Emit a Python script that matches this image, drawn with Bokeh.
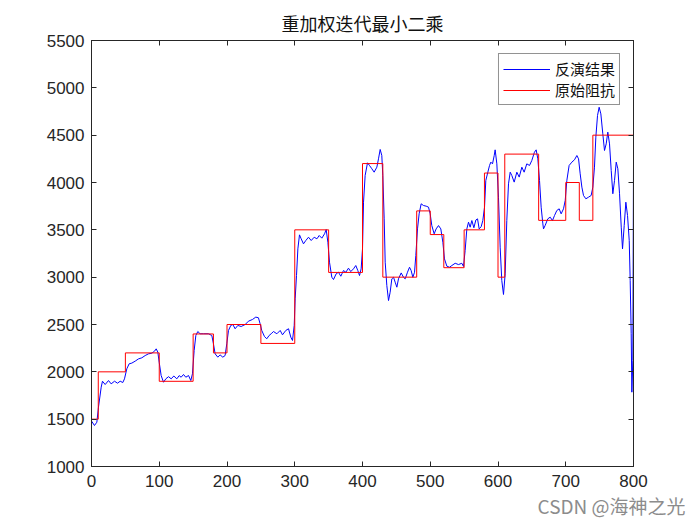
from bokeh.plotting import figure
from bokeh.models import Range1d, FixedTicker, LinearAxis, Title, CustomJSTickFormatter
from bokeh.embed import file_html
from bokeh.resources import INLINE

# 反演结果 (inversion result)
inv_x = [0, 4.4, 7.9, 10.3, 14.3, 16.2, 20.2, 25.1, 29, 34, 38.4, 42.3, 46.2, 48.7, 52.1, 55.6, 59.5,
         64.5, 69.4, 74.3, 79.2, 84.1, 89, 93, 95.5, 97.9, 99.9, 102.8, 106.3, 109.7, 113.7, 117.6,
         121.5, 125.9, 129.4, 132.3, 135.8, 139.2, 143.2, 146.6, 149, 151.5, 154, 156.9, 160.3,
         165.3, 172.6, 177.6, 180, 182.5, 186.4, 189.8, 193.8, 197.2, 199.7, 202.2, 205.6, 208.6,
         212, 216, 220.9, 226.8, 231.7, 237.6, 242.5, 246.4, 248.9, 251.3, 255.3, 258.7, 262.2,
         266.1, 268.6, 273.6, 278.5, 281.9, 286.8, 290.8, 294.2, 296.7, 299.2, 300.6, 302.6, 304.6,
         307, 309.5, 312.9, 316.3, 320.3, 324.3, 328.7, 332.7, 336.1, 340, 344, 346.4, 348.9, 351.3,
         354.7, 357.2, 361.1, 364.5, 368, 371.9, 375.4, 379.3, 382.7, 386.7, 390.1, 393.1, 395.6,
         398, 400, 401.5, 403.9, 407.4, 410.3, 413.8, 417.2, 421.2, 423.6, 426.1, 428.5, 430, 432,
         433.5, 435.9, 438.4, 440.8, 443.3, 445.8, 448.2, 450.7, 453.1, 457.1, 460.5, 463, 466.4,
         469.4, 471.8, 474.3, 476.8, 478.7, 481.2, 483.6, 486.6, 490, 494, 497.4, 499.9, 502.3,
         505.8, 508.7, 512.2, 515.6, 518.6, 521, 524.5, 528.4, 531.9, 536.8, 541.7, 546.6, 549.1,
         551.5, 554, 556.5, 558.9, 561.4, 564.4, 567.3, 569.8, 572.2, 575.2, 577.6, 580.1, 582, 585,
         587.5, 589.4, 591.9, 594.4, 595.8, 598.3, 600.7, 603.2, 605.6, 608.1, 610.6, 613, 615.5,
         618, 620.4, 623.9, 627.8, 631.3, 635.2, 638.6, 642.5, 646.5, 649.9, 653.8, 656.3, 658.8,
         661.3, 663.7, 666.2, 667.2, 669.6, 673.5, 677, 680.4, 683.4, 686.8, 690.3, 693.2, 696.7,
         699.2, 701.6, 705, 709, 712.9, 716.4, 718.9, 721.3, 723.8, 726.2, 729.7, 733.6, 737.5, 740,
         742.4, 744.4, 746.9, 749.3, 751.8, 754.7, 757.2, 759.7, 762.1, 764.6, 767.1, 769.5, 772,
         774.5, 776.9, 779.4, 781.9, 783.8, 786.3, 788.7, 791.2, 793.7, 795.1, 796.6, 797.6, 799, 800]
inv_y = [1480, 1433, 1468, 1627, 1838, 1901, 1866, 1908, 1873, 1901, 1880, 1901, 1887, 1926, 2032, 2085, 2092,
         2113, 2137, 2148, 2172, 2190, 2197, 2218, 2243, 2208, 2102, 1961, 1890, 1926, 1949, 1926,
         1956, 1926, 1960, 1943, 1972, 1943, 1961, 1908, 1979, 2225, 2384, 2426, 2402,
         2402, 2402, 2384, 2296, 2190, 2155, 2179, 2155, 2172, 2296, 2437, 2490, 2500,
         2455, 2490, 2479, 2500, 2535, 2553, 2578, 2571, 2507, 2437, 2373, 2349, 2384,
         2408, 2426, 2402, 2437, 2391, 2437, 2455, 2366, 2331, 2490, 2771, 3017, 3299,
         3447, 3405, 3352, 3387, 3422, 3387, 3422, 3405, 3440, 3412, 3458, 3503, 3369, 3158,
         3000, 2975, 3035, 3052, 3010, 3070, 3052, 3095, 3059, 3088, 3123, 3070, 3017,
         3088, 3299, 3792, 4074, 4208, 4180, 4145, 4109, 4162, 4250, 4349, 4285, 4074, 3616,
         3158, 2912, 2753, 2841, 2982, 2999, 2947, 2894, 2982, 3045, 2999, 2982, 3052,
         3105, 3070, 2999, 3052, 3229, 3510, 3669, 3775, 3757, 3750, 3740, 3669, 3545,
         3458, 3510, 3545, 3510, 3369, 3193, 3116, 3105, 3123, 3147, 3133, 3147, 3113,
         3282, 3510, 3581, 3528, 3598, 3522, 3604, 3616, 3510, 3534, 3598, 3739, 4021, 4109,
         4180, 4215, 4197, 4285, 4345, 4197, 3845, 3317, 2965, 2817, 3035, 3598, 3986,
         4109, 4074, 4004, 4109, 4057, 4162, 4109, 4197, 4180, 4232, 4320, 4345, 4250,
         4021, 3739, 3563, 3510, 3546, 3616, 3634, 3598, 3651, 3704, 3722, 3669, 3722,
         3810, 4021, 4180, 4215, 4240, 4285, 4250, 4092, 3951, 3863, 3828, 3845, 3863, 3951,
         4162, 4479, 4708, 4795, 4725, 4514, 4338, 4408, 4532, 4408, 4127, 3881, 4021,
         4215, 4145, 3881, 3528, 3299, 3546, 3792, 3651, 3387, 2965, 2402, 1785, 2120, 4200]

# 原始阻抗 (original impedance), step function
imp_edges = [0, 10, 50, 100, 150, 180, 200, 250, 300, 350, 400, 430, 480, 500, 520, 550, 580,
             600, 610, 660, 700, 720, 740, 800]
imp_values = [1500, 2000, 2200, 1900, 2400, 2200, 2500, 2300, 3500, 3050, 4200, 3000, 3700,
              3450, 3100, 3500, 4100, 3000, 4300, 3600, 4000, 3600, 4500]

x_ticks = [0, 100, 200, 300, 400, 500, 600, 700, 800]
y_ticks = [1000, 1500, 2000, 2500, 3000, 3500, 4000, 4500, 5000, 5500]

title_text = "重加权迭代最小二乘"
series_names = ["反演结果", "原始阻抗"]
watermark = "CSDN @海神之光"

AX = "#262626"
TICK_FONT = "Liberation Sans"
CJK = "Noto Sans CJK SC"

p = figure(width=700, height=525, output_backend="svg", toolbar_location=None,
           x_range=Range1d(0, 800), y_range=Range1d(1000, 5500),
           min_border_left=91, min_border_right=67, min_border_top=40, min_border_bottom=59,
           background_fill_color="white", border_fill_color="white")

p.title.text = title_text
p.title.align = "center"
p.title.text_font = CJK
p.title.text_font_style = "normal"
p.title.text_font_size = "18px"
p.title.text_color = "#111111"

p.xgrid.visible = False
p.ygrid.visible = False
p.outline_line_color = AX

def style_axis(ax, ticks, labels=True):
    ax.ticker = FixedTicker(ticks=ticks)
    ax.axis_line_color = AX
    ax.major_tick_line_color = AX
    ax.major_tick_in = 5
    ax.major_tick_out = 0
    ax.minor_tick_line_color = None
    ax.major_label_text_font = TICK_FONT
    ax.major_label_text_font_size = "17px"
    ax.major_label_text_color = AX
    if not labels:
        ax.formatter = CustomJSTickFormatter(code="return '';")
        ax.major_label_standoff = 0

style_axis(p.xaxis[0], x_ticks)
style_axis(p.yaxis[0], y_ticks)
p.xaxis[0].major_label_standoff = 8
p.yaxis[0].major_label_standoff = 7

top_ax = LinearAxis()
right_ax = LinearAxis()
style_axis(top_ax, x_ticks, labels=False)
style_axis(right_ax, y_ticks, labels=False)
p.add_layout(top_ax, "above")
p.add_layout(right_ax, "right")

p.line(inv_x, inv_y, line_color="#0000FF", line_width=1, legend_label=series_names[0])
p.step(imp_edges, imp_values + [imp_values[-1]], mode="after", line_color="#FF0000",
       line_width=1, legend_label=series_names[1])

lg = p.legend[0]
lg.location = "top_right"
lg.margin = 13
lg.padding = 4
lg.spacing = -3
lg.glyph_width = 47
lg.glyph_height = 14
lg.label_height = 14
lg.label_standoff = 5
lg.label_text_font = CJK
lg.label_text_font_size = "15px"
lg.label_text_color = "#111111"
lg.border_line_color = AX
lg.border_line_width = 1
lg.background_fill_color = "white"
lg.background_fill_alpha = 1

wm = Title(text=watermark, align="right", offset=-52, standoff=0, text_font=CJK,
           text_font_style="normal", text_font_size="19px", text_color="#8c8c8c")
p.add_layout(wm, "below")

open("out.html", "w").write(file_html(p, INLINE))
